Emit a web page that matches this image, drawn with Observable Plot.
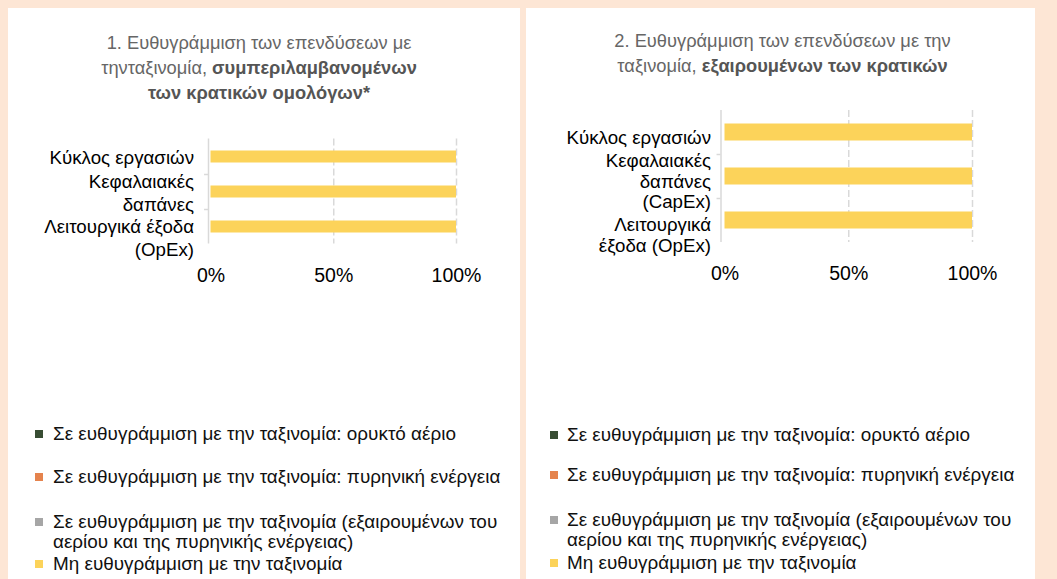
<!DOCTYPE html>
<html>
<head>
<meta charset="utf-8">
<script src="https://cdn.jsdelivr.net/npm/d3@7"></script>
<script src="https://cdn.jsdelivr.net/npm/@observablehq/plot@0.6"></script>
<style>
  html, body { margin: 0; padding: 0; }
  body { width: 1057px; height: 579px; background: #fde6d5; position: relative; overflow: hidden;
         font-family: "Liberation Sans", Arial, sans-serif; }
  .panel { position: absolute; top: 8px; height: 571px; background: #ffffff; }
  .panel svg { position: absolute; left: 0; top: 0; }
  .title { position: absolute; left: 0; width: 100%; text-align: center; color: #666666;
           font-size: 18.3px; line-height: 25px; }
  .title b { color: #555555; }
  .item { position: absolute; white-space: pre; line-height: 19.5px; font-size: 18.9px; color: #111; }
  .sw { position: absolute; width: 8px; height: 8px; }
</style>
</head>
<body>
<div id="p1" class="panel" style="left:8px;width:512px"></div>
<div id="p2" class="panel" style="left:526px;width:509px"></div>
<script>
// ---- data ----
const categories = ["Κύκλος εργασιών", "Κεφαλαιακές δαπάνες", "Λειτουργικά έξοδα (OpEx)"];
const tickLabels1 = ["Κύκλος εργασιών", "Κεφαλαιακές\nδαπάνες", "Λειτουργικά έξοδα\n(OpEx)"];
const tickLabels2 = ["Κύκλος εργασιών", "Κεφαλαιακές\nδαπάνες\n(CapEx)", "Λειτουργικά\nέξοδα (OpEx)"];
const seriesNames = [
  "Σε ευθυγράμμιση με την ταξινομία: ορυκτό αέριο",
  "Σε ευθυγράμμιση με την ταξινομία: πυρηνική ενέργεια",
  "Σε ευθυγράμμιση με την ταξινομία (εξαιρουμένων του\nαερίου και της πυρηνικής ενέργειας)",
  "Μη ευθυγράμμιση με την ταξινομία"
];
const seriesColors = ["#384d33", "#e5834d", "#a6a6a6", "#fcd35a"];
// values per series, per category (%) — panel 1 (incl. sovereign bonds)
const gas1 = [0, 0, 0];
const nuclear1 = [0, 0, 0];
const aligned1 = [0, 0, 0];
const notAligned1 = [100, 100, 100];
// panel 2 (excl. sovereign bonds)
const gas2 = [0, 0, 0];
const nuclear2 = [0, 0, 0];
const aligned2 = [0, 0, 0];
const notAligned2 = [100, 100, 100];
const xTicks = [0, 50, 100];
const gridTicks = [50, 100];
const title1 = ["1. Ευθυγράμμιση των επενδύσεων με", "τηνταξινομία, ", "συμπεριλαμβανομένων", "των κρατικών ομολόγων*"];
const title2 = ["2. Ευθυγράμμιση των επενδύσεων με την", "ταξινομία, ", "εξαιρουμένων των κρατικών"];

function rows(seriesArrays) {
  const out = [];
  seriesArrays.forEach((vals, s) => vals.forEach((v, i) => out.push({cat: categories[i], series: seriesNames[s], value: v})));
  return out;
}

function chart(opts) {
  const data = rows(opts.series);
  const labelMarks = categories.map((c, i) => Plot.text([c], {
    x: 0, y: d => d, text: () => opts.labels[i], textAnchor: "end", lineAnchor: "middle",
    dx: opts.labelDx, dy: opts.labelDy[i], fontSize: opts.labelSize, lineHeight: opts.lineHeight[i], fill: "#000"
  }));
  return Plot.plot({
    width: opts.width, height: 300,
    marginLeft: opts.ml, marginRight: opts.mr, marginTop: opts.mt, marginBottom: opts.mb,
    style: {fontFamily: "Liberation Sans, Arial, sans-serif", background: "transparent", overflow: "visible"},
    x: {domain: [0, 100], axis: null},
    y: {domain: categories, padding: 0, axis: null},
    color: {domain: seriesNames, range: seriesColors},
    marks: [
      Plot.ruleX(gridTicks, {stroke: "#d9d9d9", strokeWidth: 1.5, strokeDasharray: "7,3"}),
      Plot.ruleX([0], {stroke: "#d9d9d9", strokeWidth: 1.5, dx: opts.axisDx}),
      Plot.ruleY(categories.slice(1), {y: d => d, x1: -1.6, x2: 0, dx: opts.axisDx, dy: -opts.band / 2, stroke: "#d9d9d9", strokeWidth: 1.5}),
      Plot.barX(data, Plot.stackX({x: "value", y: "cat", fill: "series", order: seriesNames, insetTop: opts.inset, insetBottom: opts.inset})),
      Plot.axisX(xTicks, {tickSize: 0, tickPadding: opts.tickPad, tickFormat: d => d + "%", fontSize: 19.5, fill: "#000", anchor: "bottom", label: null}),
      ...labelMarks
    ]
  });
}

function addLegend(el, swX, txtX, rowTops) {
  seriesNames.forEach((name, i) => {
    const sw = document.createElement("div");
    sw.className = "sw";
    sw.style.background = seriesColors[i];
    sw.style.left = swX + "px";
    sw.style.top = (rowTops[i] + 6) + "px";
    el.appendChild(sw);
    const it = document.createElement("div");
    it.className = "item";
    it.style.left = txtX + "px";
    it.style.top = rowTops[i] + "px";
    it.textContent = name;
    el.appendChild(it);
  });
}

const p1 = document.getElementById("p1");
const p2 = document.getElementById("p2");

p1.appendChild(chart({
  series: [gas1, nuclear1, aligned1, notAligned1], labels: tickLabels1,
  width: 512, ml: 202.5, mr: 64, mt: 130.5, mb: 64.5, band: 35, inset: 11.5,
  axisDx: -2.5, tickPad: 24.5, labelDx: -17, labelDy: [0, 0, 10.5], labelSize: 18.7, lineHeight: [1.23, 1.23, 1.2]
}));
p2.appendChild(chart({
  series: [gas2, nuclear2, aligned2, notAligned2], labels: tickLabels2,
  width: 509, ml: 198.5, mr: 63, mt: 102, mb: 66, band: 44, inset: 13.5,
  axisDx: -4, tickPad: 24, labelDx: -14, labelDy: [5, 4.5, 14], labelSize: 18.7, lineHeight: [1.15, 1.1, 1.13]
}));

// titles
(function(){
  const t1 = document.createElement("div");
  t1.className = "title"; t1.style.top = "22px"; t1.style.left = "-5px";
  t1.innerHTML = `${title1[0]}<br>${title1[1]}<b>${title1[2]}</b><br><b>${title1[3]}</b>`;
  p1.appendChild(t1);
  const t2 = document.createElement("div");
  t2.className = "title"; t2.style.top = "20px"; t2.style.left = "2px";
  t2.innerHTML = `${title2[0]}<br>${title2[1]}<b>${title2[2]}</b>`;
  p2.appendChild(t2);
})();

addLegend(p1, 27, 45, [416, 459, 504, 546]);
addLegend(p2, 24, 41, [417, 457, 502, 545]);
</script>
</body>
</html>
